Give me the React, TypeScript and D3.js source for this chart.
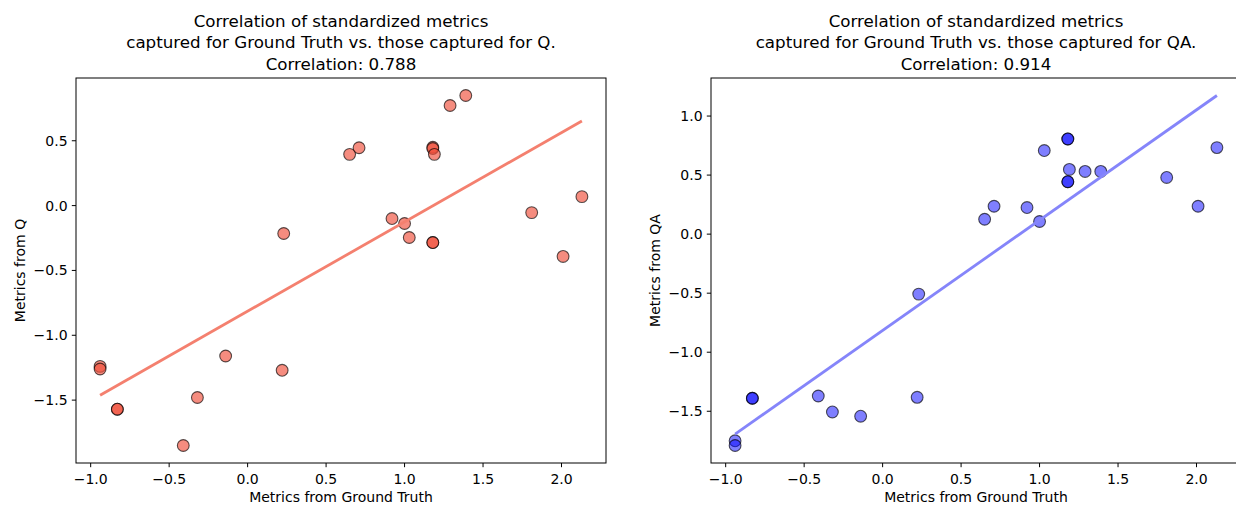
import React from "react";
import * as d3 from "d3";

// standardized metrics, ground truth shared by both panels
const groundTruth = [-0.94, -0.94, -0.83, -0.83, -0.41, -0.32, -0.14, 0.22, 0.23, 0.65, 0.71, 0.92, 1.0, 1.03, 1.18, 1.18, 1.18, 1.18, 1.19, 1.29, 1.39, 1.81, 2.01, 2.13];
const metricsQ = [-1.24, -1.26, -1.57, -1.57, -1.85, -1.48, -1.16, -1.27, -0.215, 0.395, 0.446, -0.1, -0.138, -0.246, 0.45, 0.44, -0.285, -0.285, 0.395, 0.772, 0.849, -0.054, -0.392, 0.069];
const metricsQA = [-1.75, -1.79, -1.39, -1.39, -1.371, -1.506, -1.542, -1.382, -0.508, 0.126, 0.236, 0.225, 0.107, 0.708, 0.806, 0.806, 0.444, 0.444, 0.548, 0.531, 0.531, 0.48, 0.236, 0.733];

const titleQ = ["Correlation of standardized metrics", "captured for Ground Truth vs. those captured for Q.", "Correlation: 0.788"];
const titleQA = ["Correlation of standardized metrics", "captured for Ground Truth vs. those captured for QA.", "Correlation: 0.914"];

const xTicks = [-1.0, -0.5, 0.0, 0.5, 1.0, 1.5, 2.0];
const yTicksQ = [-1.5, -1.0, -0.5, 0.0, 0.5];
const yTicksQA = [-1.5, -1.0, -0.5, 0.0, 0.5, 1.0];

const FONT = "DejaVu Sans, sans-serif";
const W = 530;
const H = 385;
const TOP = 78;
const fmt = d3.format(".1f");

// least squares fit, like the regression line in the original plot
function fit(xs: number[], ys: number[]) {
  const mx = d3.mean(xs)!;
  const my = d3.mean(ys)!;
  const slope = d3.sum(xs, (x, i) => (x - mx) * (ys[i] - my)) / d3.sum(xs, x => (x - mx) ** 2);
  const [x0, x1] = d3.extent(xs) as [number, number];
  return [[x0, my + slope * (x0 - mx)], [x1, my + slope * (x1 - mx)]];
}

// matplotlib style 5% margins
function padded(vals: number[]): [number, number] {
  const [a, b] = d3.extent(vals) as [number, number];
  const m = (b - a) * 0.05;
  return [a - m, b + m];
}

function Panel({ left, ys, yTicks, title, ylabel, fill, fillOpacity, lineColor }: any) {
  const line = fit(groundTruth, ys);
  const x = d3.scaleLinear().domain(padded(groundTruth)).range([0, W]);
  const y = d3.scaleLinear().domain(padded([...ys, line[0][1], line[1][1]])).range([H, 0]);
  const path = d3.line<number[]>().x(d => x(d[0])).y(d => y(d[1]))(line)!;
  const cx = W / 2;

  return (
    <g transform={`translate(${left},${TOP})`} fontFamily={FONT}>
      {title.map((t: string, i: number) => (
        <text key={i} x={cx} y={-51 + i * 21.3} textAnchor="middle" fontSize={16.7} fill="#000">{t}</text>
      ))}
      <g>
        {ys.map((v: number, i: number) => (
          <circle key={i} cx={x(groundTruth[i])} cy={y(v)} r={5.9}
            fill={fill} fillOpacity={fillOpacity} stroke="#000" strokeOpacity={0.65} strokeWidth={1.1} />
        ))}
      </g>
      <path d={path} stroke={lineColor} strokeWidth={2.8} fill="none" />
      <rect x={0} y={0} width={W} height={H} fill="none" stroke="#000" strokeWidth={1} />
      {xTicks.map(t => (
        <g key={t} transform={`translate(${x(t)},${H})`}>
          <line y2={4.2} stroke="#000" />
          <text y={21} textAnchor="middle" fontSize={14}>{fmt(t)}</text>
        </g>
      ))}
      {yTicks.map((t: number) => (
        <g key={t} transform={`translate(0,${y(t)})`}>
          <line x2={-4.2} stroke="#000" />
          <text x={-8.4} dy="0.35em" textAnchor="end" fontSize={14}>{fmt(t)}</text>
        </g>
      ))}
      <text x={cx} y={H + 39} textAnchor="middle" fontSize={14}>Metrics from Ground Truth</text>
      <text transform={`translate(-51,${H / 2}) rotate(-90)`} textAnchor="middle" fontSize={14}>{ylabel}</text>
    </g>
  );
}

export default function App() {
  return (
    <svg width={1236} height={506} style={{ position: "absolute", left: 0, top: 0, background: "#fff" }}>
      <rect width={1236} height={506} fill="#fff" />
      <Panel left={76} ys={metricsQ} yTicks={yTicksQ} title={titleQ} ylabel="Metrics from Q"
        fill="#f04e3a" fillOpacity={0.65} lineColor="#f4806f" />
      <Panel left={711} ys={metricsQA} yTicks={yTicksQA} title={titleQA} ylabel="Metrics from QA"
        fill="#0000ff" fillOpacity={0.5} lineColor="#8585fa" />
    </svg>
  );
}
